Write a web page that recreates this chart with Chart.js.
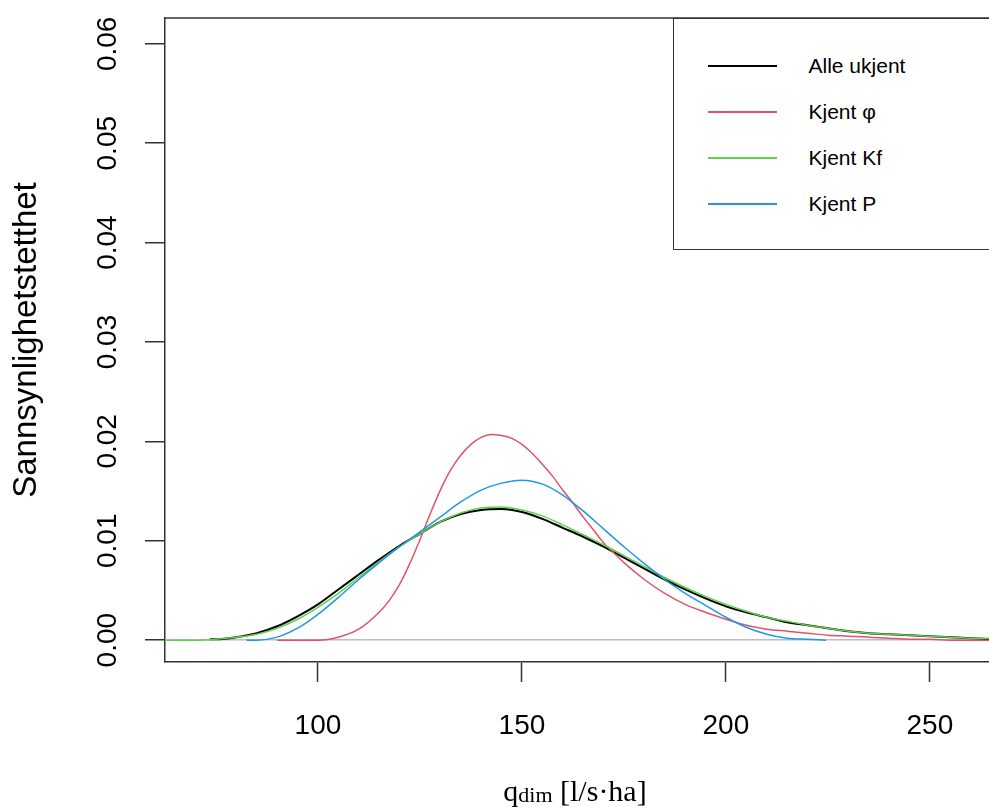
<!DOCTYPE html>
<html><head><meta charset="utf-8">
<script src="https://cdn.jsdelivr.net/npm/chart.js@4/dist/chart.umd.min.js"></script>
<style>
html,body{margin:0;padding:0;background:#fff;overflow:hidden;}
#wrap{position:relative;width:989px;height:812px;overflow:hidden;}
#legend{position:absolute;left:673px;top:18px;width:340px;height:232px;border:1.5px solid #333;background:#fff;font-family:"Liberation Sans",Arial,sans-serif;font-size:21px;color:#000;box-sizing:border-box;}
.row{position:absolute;left:0;width:330px;height:46px;line-height:46px;white-space:nowrap;}
.swatch{position:absolute;left:33.5px;width:69px;top:22px;height:2px;}
.lbl{position:absolute;left:134.5px;top:0;}
#xtitle{position:absolute;left:425px;width:300px;top:776px;text-align:center;font-family:"Liberation Serif","Times New Roman",serif;font-size:30px;line-height:30px;color:#000;white-space:nowrap;}
#xtitle sub{font-size:22px;vertical-align:baseline;position:relative;top:1px;}
</style></head>
<body>
<div id="wrap">
<canvas id="c" width="989" height="812"></canvas>
<div id="legend"></div>
<div id="xtitle">q<sub>dim</sub> [l/s·ha]</div>
</div>
<script>
// ---- data ----
const seriesLabels = ["Alle ukjent", "Kjent φ", "Kjent Kf", "Kjent P"];
const xTicks = [100, 150, 200, 250];
const yTicks = [0, 0.01, 0.02, 0.03, 0.04, 0.05, 0.06];

const alleX = [73.5, 75, 80, 85, 90, 95, 100, 105, 110, 115, 120, 125, 130, 135, 140, 145, 150, 155, 160, 165, 170, 175, 180, 185, 190, 195, 200, 205, 210, 215, 220, 225, 230, 235, 240, 245, 250, 255, 260, 264.5];
const alleY = [0.0001, 0.0001, 0.0003, 0.0007, 0.0014, 0.0024, 0.0036, 0.0051, 0.0066, 0.0081, 0.0095, 0.0107, 0.0119, 0.0127, 0.0131, 0.0132, 0.0129, 0.0122, 0.0113, 0.0104, 0.0094, 0.0083, 0.0072, 0.0061, 0.0051, 0.0042, 0.0034, 0.0028, 0.0023, 0.0018, 0.0015, 0.0012, 0.0009, 0.0007, 0.0006, 0.0005, 0.0004, 0.0003, 0.0002, 0.0001];

const phiX = [90, 95, 100, 105, 110, 115, 117.5, 120, 122.5, 125, 127.5, 130, 132.5, 135, 137.5, 140, 142.5, 145, 147.5, 150, 152.5, 155, 157.5, 160, 162.5, 165, 167.5, 170, 172.5, 175, 180, 185, 190, 195, 200, 205, 210, 215, 220, 225, 230, 235, 240, 245, 250, 255, 264.5];
const phiY = [0, 0, 0.0000, 0.0003, 0.0011, 0.0028, 0.0040, 0.0056, 0.0077, 0.0101, 0.0127, 0.0151, 0.0171, 0.0186, 0.0197, 0.0204, 0.0207, 0.0206, 0.0203, 0.0197, 0.0188, 0.0177, 0.0165, 0.0151, 0.0138, 0.0124, 0.0111, 0.0098, 0.0088, 0.0078, 0.0061, 0.0047, 0.0036, 0.0028, 0.0021, 0.0015, 0.0011, 0.0009, 0.0007, 0.0005, 0.0004, 0.0003, 0.0002, 0.0001, 0.0001, 0, 0];

const kfX = [62.5, 70, 75, 80, 85, 90, 95, 100, 105, 110, 115, 120, 125, 130, 135, 140, 145, 150, 155, 160, 165, 170, 175, 180, 185, 190, 195, 200, 205, 210, 215, 220, 225, 230, 235, 240, 245, 250, 255, 260, 264.5];
const kfY = [0, 0, 0.0001, 0.0003, 0.0006, 0.0012, 0.0021, 0.0033, 0.0047, 0.0063, 0.0079, 0.0094, 0.0107, 0.0119, 0.0128, 0.0133, 0.0134, 0.0131, 0.0125, 0.0116, 0.0106, 0.0096, 0.0085, 0.0074, 0.0063, 0.0053, 0.0044, 0.0036, 0.0029, 0.0023, 0.0019, 0.0015, 0.0012, 0.0009, 0.0007, 0.0006, 0.0005, 0.0004, 0.0003, 0.0002, 0.0002];

const pX = [82.5, 85, 90, 95, 100, 105, 110, 115, 120, 125, 130, 135, 140, 145, 150, 155, 160, 165, 170, 175, 180, 185, 190, 195, 200, 205, 210, 215, 220, 224.5];
const pY = [0, 0.0000, 0.0003, 0.0012, 0.0026, 0.0043, 0.0061, 0.0078, 0.0094, 0.0109, 0.0124, 0.0139, 0.0151, 0.0158, 0.0161, 0.0157, 0.0146, 0.0130, 0.0112, 0.0094, 0.0077, 0.0061, 0.0047, 0.0035, 0.0023, 0.0013, 0.0006, 0.0002, 0.0001, 0];

const seriesColors = ["#000000", "#DF536B", "#61D04F", "#2297E6"];

function pts(xs, ys) { return xs.map((x, i) => ({x: x, y: ys[i]})); }

const FONT = '"Liberation Sans", Arial, sans-serif';
Chart.defaults.font.family = FONT;
Chart.defaults.color = '#000';

const topBorder = {
  id: 'topBorder',
  afterDraw(chart) {
    const {ctx, chartArea} = chart;
    ctx.save();
    ctx.strokeStyle = '#333';
    ctx.lineWidth = 1.5;
    ctx.beginPath();
    ctx.moveTo(chartArea.left - 0.75, chartArea.top);
    ctx.lineTo(chartArea.right + 5, chartArea.top);
    ctx.stroke();
    ctx.restore();
  }
};

const chart = new Chart(document.getElementById('c'), {
  type: 'line',
  data: {
    datasets: [
      {label: seriesLabels[0], data: pts(alleX, alleY), borderColor: seriesColors[0], borderWidth: 2, order: 4},
      {label: seriesLabels[1], data: pts(phiX, phiY), borderColor: seriesColors[1], borderWidth: 1.5, order: 3},
      {label: seriesLabels[2], data: pts(kfX, kfY), borderColor: seriesColors[2], borderWidth: 1.5, order: 2},
      {label: seriesLabels[3], data: pts(pX, pY), borderColor: seriesColors[3], borderWidth: 1.5, order: 1}
    ]
  },
  options: {
    responsive: false,
    animation: false,
    devicePixelRatio: 1,
    layout: {padding: {top: 18, left: 0, right: 0, bottom: 0}},
    elements: {
      point: {radius: 0, hoverRadius: 0},
      line: {cubicInterpolationMode: 'monotone', fill: false}
    },
    plugins: {legend: {display: false}, tooltip: {enabled: false}},
    scales: {
      x: {
        type: 'linear',
        min: 62.5, max: 264.5,
        afterBuildTicks(scale) { scale.ticks = xTicks.map(v => ({value: v})); },
        afterFit(scale) { scale.height = 150; scale.paddingLeft = 0; scale.paddingRight = 0; },
        ticks: {font: {size: 28}, color: '#000', padding: 27, maxRotation: 0, minRotation: 0,
                callback: v => String(v)},
        grid: {display: true, drawOnChartArea: false, drawTicks: true, tickLength: 20, tickColor: '#333', tickWidth: 1.5},
        border: {display: true, color: '#333', width: 1.5}
      },
      y: {
        type: 'linear',
        min: -0.0022, max: 0.0626,
        afterBuildTicks(scale) { scale.ticks = yTicks.map(v => ({value: v})); },
        afterFit(scale) { scale.width = 165; scale.paddingTop = 0; scale.paddingBottom = 0; },
        ticks: {font: {size: 28}, color: '#000', padding: 9, minRotation: 90, maxRotation: 90, crossAlign: 'center',
                callback: v => v.toFixed(2)},
        grid: {display: true, drawOnChartArea: true, drawTicks: true, tickLength: 20, tickColor: '#333', tickWidth: 1.5,
               color: c => (c.tick && c.tick.value === 0) ? '#bebebe' : 'rgba(0,0,0,0)', lineWidth: 1.5},
        border: {display: true, color: '#333', width: 1.5},
        title: {display: true, text: 'Sannsynlighetstetthet', font: {size: 33}, color: '#000', padding: {top: 7, bottom: 0}}
      }
    }
  },
  plugins: [topBorder]
});

// HTML legend built from the chart's datasets
const leg = document.getElementById('legend');
chart.data.datasets.forEach((ds, i) => {
  const row = document.createElement('div');
  row.className = 'row';
  row.style.top = (24.2 + i * 45.9) + 'px';
  const sw = document.createElement('div');
  sw.className = 'swatch';
  sw.style.background = ds.borderColor;
  const lb = document.createElement('span');
  lb.className = 'lbl';
  lb.textContent = ds.label;
  row.appendChild(sw); row.appendChild(lb);
  leg.appendChild(row);
});
</script>
</body></html>
